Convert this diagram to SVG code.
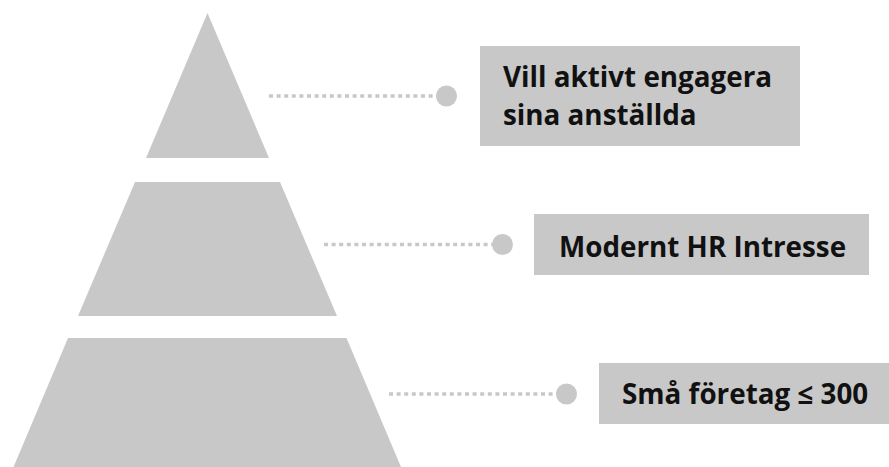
<svg xmlns="http://www.w3.org/2000/svg" width="889" height="467" viewBox="0 0 889 467">
<style>
.tier{fill:#c8c8c8}
.box{fill:#c8c8c8}
.dot{fill:#c8c8c8}
.lead{stroke:#c8c8c8;stroke-width:3.5;stroke-dasharray:4 3.6;fill:none}
.lbl{font-family:"Open Sans","Noto Sans",sans-serif;font-weight:700;fill:#111111;font-size:27.8px}
</style>
<rect width="889" height="467" fill="#ffffff"/>
<g id="tier-top">
<polygon class="tier" points="207.5,13 269,158 146,158"/>
</g>
<g id="tier-middle">
<polygon class="tier" points="135,182 280,182 337,316 78,316"/>
</g>
<g id="tier-bottom">
<polygon class="tier" points="68,338 346.5,338 401,467 13.5,467"/>
</g>
<g id="connectors">
<line class="lead" x1="269" y1="96" x2="438" y2="96"/>
<circle class="dot" cx="446.5" cy="96" r="10.5"/>
<line class="lead" x1="324" y1="244.5" x2="494" y2="244.5"/>
<circle class="dot" cx="502.5" cy="244.5" r="10.5"/>
<line class="lead" x1="389" y1="394" x2="558" y2="394"/>
<circle class="dot" cx="566.5" cy="394" r="10.5"/>
</g>
<g id="label-top">
<rect class="box" x="480" y="46" width="320" height="100"/>
<text class="lbl" x="503" y="87">Vill aktivt engagera</text>
<text class="lbl" x="503" y="125">sina anställda</text>
</g>
<g id="label-middle">
<rect class="box" x="534" y="214" width="335" height="61"/>
<text class="lbl" x="559" y="256.5">Modernt HR Intresse</text>
</g>
<g id="label-bottom">
<rect class="box" x="599" y="363" width="290" height="61"/>
<text class="lbl" x="622" y="404">Små företag ≤ 300</text>
</g>
</svg>
